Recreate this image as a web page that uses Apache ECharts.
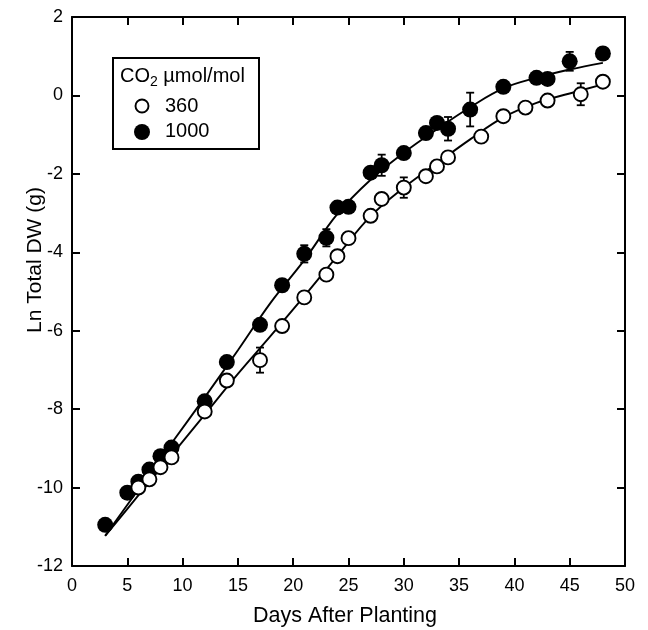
<!DOCTYPE html>
<html>
<head>
<meta charset="utf-8">
<script src="https://cdn.jsdelivr.net/npm/echarts@6/dist/echarts.min.js"></script>
<style>
html,body{margin:0;padding:0;background:#fff;}
#chart{width:648px;height:630px;}
</style>
</head>
<body>
<div id="chart"></div>
<script>
// ---- Data ----
var days1000 = [3,5,6,7,8,9,12,14,17,19,21,23,24,25,27,28,30,32,33,34,36,39,42,43,45,48];
var ln1000   = [-10.95,-10.13,-9.85,-9.54,-9.2,-8.98,-7.8,-6.8,-5.85,-4.84,-4.04,-3.63,-2.86,-2.84,-1.97,-1.78,-1.47,-0.96,-0.7,-0.85,-0.36,0.22,0.45,0.42,0.87,1.07];

var days360 = [6,7,8,9,12,14,17,19,21,23,24,25,27,28,30,32,33,34,37,39,41,43,46,48];
var ln360   = [-10.0,-9.79,-9.48,-9.23,-8.06,-7.27,-6.75,-5.88,-5.15,-4.57,-4.1,-3.64,-3.07,-2.64,-2.35,-2.06,-1.81,-1.58,-1.05,-0.53,-0.31,-0.13,0.03,0.35];

// error bars (half-widths) at selected days
var errDays1000 = [21,23,28,34,36,45];
var errSize1000 = [0.22,0.22,0.27,0.3,0.43,0.24];
var errDays360  = [17,30,46];
var errSize360  = [0.32,0.26,0.28];

// fitted curves
var fitDays = [3,6,9,12,15,18,21,24,27,30,33,36,39,42,45,48];
var fit1000 = [-11.23,-10.05,-8.87,-7.7,-6.5,-5.27,-4.2,-3.02,-2.15,-1.46,-0.86,-0.3,0.18,0.45,0.66,0.83];
var fit360  = [-11.23,-10.2,-9.17,-8.14,-7.1,-6.12,-5.12,-4.09,-3.08,-2.35,-1.73,-1.12,-0.56,-0.19,0.05,0.28];

var xTicks = [0,5,10,15,20,25,30,35,40,45,50];
var yTicks = [-12,-10,-8,-6,-4,-2,0,2];

// ---- Build option ----
function zip(a,b){ return a.map(function(v,i){ return [v,b[i]]; }); }
function errData(days, sizes, xs, ys){
  return days.map(function(d,i){
    var y = ys[xs.indexOf(d)];
    return [d, y - sizes[i], y + sizes[i]];
  });
}
var FONT = '"Liberation Sans", Arial, Helvetica, sans-serif';

function errRender(params, api){
  var x = api.value(0), lo = api.value(1), hi = api.value(2);
  var p1 = api.coord([x, hi]);
  var p2 = api.coord([x, lo]);
  var w = 4;
  var st = {stroke:'#000', lineWidth:1.8};
  return {type:'group', children:[
    {type:'line', shape:{x1:p1[0],y1:p1[1],x2:p2[0],y2:p2[1]}, style:st},
    {type:'line', shape:{x1:p1[0]-w,y1:p1[1],x2:p1[0]+w,y2:p1[1]}, style:st},
    {type:'line', shape:{x1:p2[0]-w,y1:p2[1],x2:p2[0]+w,y2:p2[1]}, style:st}
  ]};
}

function mkX(pos, showLabel){
  return {
    type:'value', position:pos, min:xTicks[0], max:xTicks[xTicks.length-1], interval:5,
    axisLine:{show:true, onZero:false, lineStyle:{color:'#000', width:2}},
    axisTick:{show:true, inside:true, length:8, lineStyle:{color:'#000', width:2}},
    axisLabel:{show:showLabel, color:'#000', fontSize:18, fontFamily:FONT, margin:11},
    splitLine:{show:false}
  };
}
function mkY(pos, showLabel){
  return {
    type:'value', position:pos, min:yTicks[0], max:yTicks[yTicks.length-1], interval:2,
    axisLine:{show:true, onZero:false, lineStyle:{color:'#000', width:2}},
    axisTick:{show:true, inside:true, length:8, lineStyle:{color:'#000', width:2}},
    axisLabel:{show:showLabel, color:'#000', fontSize:18, fontFamily:FONT, margin:9},
    splitLine:{show:false}
  };
}

var chart = echarts.init(document.getElementById('chart'), null, {renderer:'canvas'});
chart.setOption({
  animation:false,
  backgroundColor:'#fff',
  grid:{left:72, right:23, top:17, bottom:64},
  xAxis:[mkX('bottom', true), mkX('top', false)],
  yAxis:[mkY('left', true), mkY('right', false)],
  series:[
    {type:'line', data:zip(fitDays, fit1000), smooth:0.4, symbol:'none', lineStyle:{color:'#000', width:1.9}, z:1},
    {type:'line', data:zip(fitDays, fit360), smooth:0.4, symbol:'none', lineStyle:{color:'#000', width:1.9}, z:1},
    {type:'custom', renderItem:errRender, data:errData(errDays1000, errSize1000, days1000, ln1000), z:2},
    {type:'custom', renderItem:errRender, data:errData(errDays360, errSize360, days360, ln360), z:2},
    {type:'scatter', data:zip(days1000, ln1000), symbol:'circle', symbolSize:16, itemStyle:{color:'#000', opacity:1}, z:3},
    {type:'scatter', data:zip(days360, ln360), symbol:'circle', symbolSize:14, itemStyle:{color:'#fff', borderColor:'#000', borderWidth:1.9, opacity:1}, z:4}
  ],
  graphic:[
    {type:'text', x:345, y:616, style:{text:'Days After Planting', font:'21.5px '+FONT, fill:'#000', textAlign:'center', textVerticalAlign:'middle'}},
    {type:'text', x:35, y:260, rotation:Math.PI/2, style:{text:'Ln Total DW (g)', font:'21px '+FONT, fill:'#000', textAlign:'center', textVerticalAlign:'middle'}},
    {type:'rect', shape:{x:113, y:58, width:146, height:91}, style:{fill:'#fff', stroke:'#000', lineWidth:2}, z:10},
    {type:'text', x:120, y:76, z:11, style:{
      text:'{n|CO}{s|2}{n| µmol/mol}',
      rich:{n:{fontSize:20, fontFamily:FONT, fill:'#000', verticalAlign:'middle'}, s:{fontSize:14, fontFamily:FONT, fill:'#000', padding:[12,0,0,0]}},
      textVerticalAlign:'middle'}},
    {type:'circle', shape:{cx:142, cy:106, r:6.5}, style:{fill:'#fff', stroke:'#000', lineWidth:1.9}, z:11},
    {type:'text', x:165, y:106, z:11, style:{text:'360', font:'20px '+FONT, fill:'#000', textVerticalAlign:'middle'}},
    {type:'circle', shape:{cx:142, cy:132, r:8}, style:{fill:'#000'}, z:11},
    {type:'text', x:165, y:131, z:11, style:{text:'1000', font:'20px '+FONT, fill:'#000', textVerticalAlign:'middle'}}
  ]
});
</script>
</body>
</html>
